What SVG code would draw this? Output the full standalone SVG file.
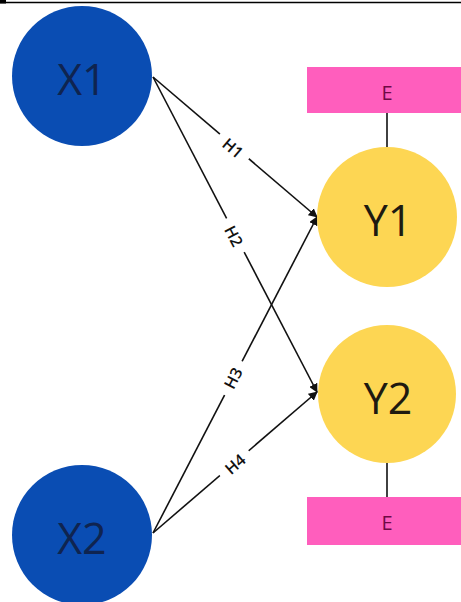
<svg xmlns="http://www.w3.org/2000/svg" width="461" height="602" viewBox="0 0 461 602">
<defs>
<marker id="arr" viewBox="0 0 10 10" refX="9" refY="5" markerWidth="9" markerHeight="9" markerUnits="userSpaceOnUse" orient="auto"><path d="M0,0 L10,5 L0,10 z" fill="#111"/></marker>
<style>
.x{fill:#0a4db3}
.y{fill:#fdd653}
.e{fill:#ff5ebd}
.nt{font-family:"Open Sans","Liberation Sans",sans-serif;font-size:43px;text-anchor:middle;dominant-baseline:central}
.xt{fill:#0f2450}
.yt{fill:#1e1a10}
.et{font-family:"Open Sans","Liberation Sans",sans-serif;font-size:20px;fill:#6e0a45;text-anchor:middle;dominant-baseline:central}
.c{stroke:#111;stroke-width:1.6;fill:none}
.l{font-family:"Open Sans","Liberation Sans",sans-serif;font-size:16px;font-weight:600;fill:#111;text-anchor:middle;dominant-baseline:central}
.lb{fill:#fff}
</style>
</defs>
<rect width="461" height="602" fill="#fff"/>
<line x1="0" y1="2.5" x2="461" y2="2.5" stroke="#000" stroke-width="1.5"/>
<rect x="0" y="0" width="6" height="3.5" fill="#000"/>
<g id="connectors">
<line class="c" x1="153" y1="77" x2="317" y2="217" marker-end="url(#arr)"/>
<line class="c" x1="153" y1="77" x2="317" y2="392" marker-end="url(#arr)"/>
<line class="c" x1="153" y1="533" x2="317" y2="217" marker-end="url(#arr)"/>
<line class="c" x1="153" y1="533" x2="317" y2="392" marker-end="url(#arr)"/>
<line class="c" stroke-width="2.5" x1="387" y1="113" x2="387" y2="147"/>
<line class="c" stroke-width="2.5" x1="387" y1="463" x2="387" y2="497"/>
<g transform="translate(233,148) rotate(40.5)"><rect class="lb" x="-19" y="-9" width="38" height="18"/><text class="l">H1</text></g>
<g transform="translate(234,236) rotate(62.5)"><rect class="lb" x="-19" y="-9" width="38" height="18"/><text class="l">H2</text></g>
<g transform="translate(233,378) rotate(-62.6)"><rect class="lb" x="-19" y="-9" width="38" height="18"/><text class="l">H3</text></g>
<g transform="translate(235,464) rotate(-40.7)"><rect class="lb" x="-19" y="-9" width="38" height="18"/><text class="l">H4</text></g>
</g>
<g id="X1"><circle class="x" cx="82" cy="76" r="70"/><text class="nt xt" x="82" y="78">X1</text></g>
<g id="X2"><circle class="x" cx="82" cy="535" r="70"/><text class="nt xt" x="82" y="537">X2</text></g>
<g id="Y1"><circle class="y" cx="387" cy="217" r="70"/><text class="nt yt" x="388" y="219">Y1</text></g>
<g id="Y2"><circle class="y" cx="387" cy="394" r="69"/><text class="nt yt" x="388" y="397">Y2</text></g>
<g id="E1"><rect class="e" x="307" y="67" width="160" height="46"/><text class="et" x="387" y="92">E</text></g>
<g id="E2"><rect class="e" x="307" y="497" width="160" height="48"/><text class="et" x="387" y="522">E</text></g>
</svg>
